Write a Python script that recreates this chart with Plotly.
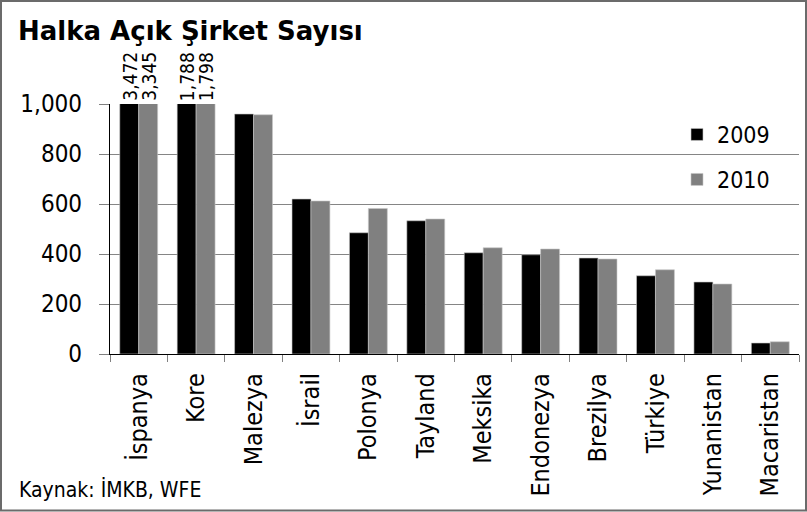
import plotly.graph_objects as go

categories = ["İspanya", "Kore", "Malezya", "İsrail", "Polonya", "Tayland", "Meksika",
              "Endonezya", "Brezilya", "Türkiye", "Yunanistan", "Macaristan"]
values_2009 = [3472, 1788, 960, 620, 485, 533, 405, 397, 384, 313, 288, 44]
values_2010 = [3345, 1798, 957, 612, 582, 540, 425, 420, 380, 337, 280, 49]
y_ticks = [0, 200, 400, 600, 800, 1000]
y_tick_labels = ["0", "200", "400", "600", "800", "1,000"]
title_text = "Halka Açık Şirket Sayısı"
source_text = "Kaynak: İMKB, WFE"

W, H = 807, 512
ML, MR, MT, MB = 110, 8, 104, 158
PW, PH = W - ML - MR, H - MT - MB
YMAX = 1000

FONT = "DejaVu Sans Condensed, DejaVu Sans"


def px_x(p):
    return (p - ML) / PW


def px_y(p):
    return (H - MB - p) / PH


fig = go.Figure()
fig.add_trace(go.Bar(x=categories, y=values_2009, name="2009", legend="legend",
                     marker=dict(color="#000000", line=dict(color="#c8c8c8", width=0.6))))
fig.add_trace(go.Bar(x=categories, y=values_2010, name="2010", legend="legend2",
                     marker=dict(color="#808080", line=dict(color="#c8c8c8", width=0.6))))

# Labels for clipped bars
half = 0.165
for i, (a, b) in enumerate(zip(values_2009, values_2010)):
    for off, v in ((-half, a), (half, b)):
        if v > YMAX:
            fig.add_annotation(x=i + off, y=YMAX, xref="x", yref="y",
                               text=f"{v:,}", textangle=-90, showarrow=False,
                               yanchor="bottom", xanchor="center", yshift=1,
                               font=dict(family=FONT, size=19, color="#000"))

fig.add_annotation(x=px_x(17), y=px_y(489), xref="paper", yref="paper",
                   text=source_text, showarrow=False, xanchor="left", yanchor="middle",
                   font=dict(family=FONT, size=21, color="#000"))

# outer frame
fig.add_shape(type="rect", xref="paper", yref="paper",
              x0=px_x(1), x1=px_x(W - 1), y0=px_y(H - 1.5), y1=px_y(1),
              line=dict(color="#6b6b6b", width=2), layer="below")

legend_common = dict(xanchor="left", yanchor="top", bgcolor="rgba(0,0,0,0)",
                     font=dict(family=FONT, size=23, color="#000"), itemwidth=30)

fig.update_layout(
    width=W, height=H,
    margin=dict(l=ML, r=MR, t=MT, b=MB, autoexpand=False),
    paper_bgcolor="white", plot_bgcolor="white",
    barmode="group", bargap=0.34, bargroupgap=0,
    title=dict(text="<b>" + title_text + "</b>", x=18 / W, xanchor="left",
               xref="container", y=1 - 31 / H, yanchor="middle", yref="container",
               font=dict(family="DejaVu Sans", size=26, color="#000")),
    legend=dict(x=px_x(677), y=px_y(113), **legend_common),
    legend2=dict(x=px_x(677), y=px_y(158), **legend_common),
    xaxis=dict(type="category", showline=True, linecolor="#000", linewidth=1.2,
               ticks="outside", tickson="boundaries", ticklen=7, tickcolor="#808080",
               tickangle=-90, ticklabelstandoff=8,
               tickfont=dict(family=FONT, size=25, color="#000"),
               showgrid=False),
    yaxis=dict(range=[0, YMAX], tickvals=y_ticks, ticktext=y_tick_labels,
               showline=True, linecolor="#000", linewidth=1.2,
               ticks="outside", ticklen=10, tickcolor="#808080", ticklabelstandoff=12,
               showgrid=True, gridcolor="#858585", gridwidth=1, zeroline=False,
               tickfont=dict(family=FONT, size=24, color="#000")),
    showlegend=True,
)

fig.write_html("out.html", config={"displayModeBar": False},
               post_script="document.body.style.margin='0px';")
